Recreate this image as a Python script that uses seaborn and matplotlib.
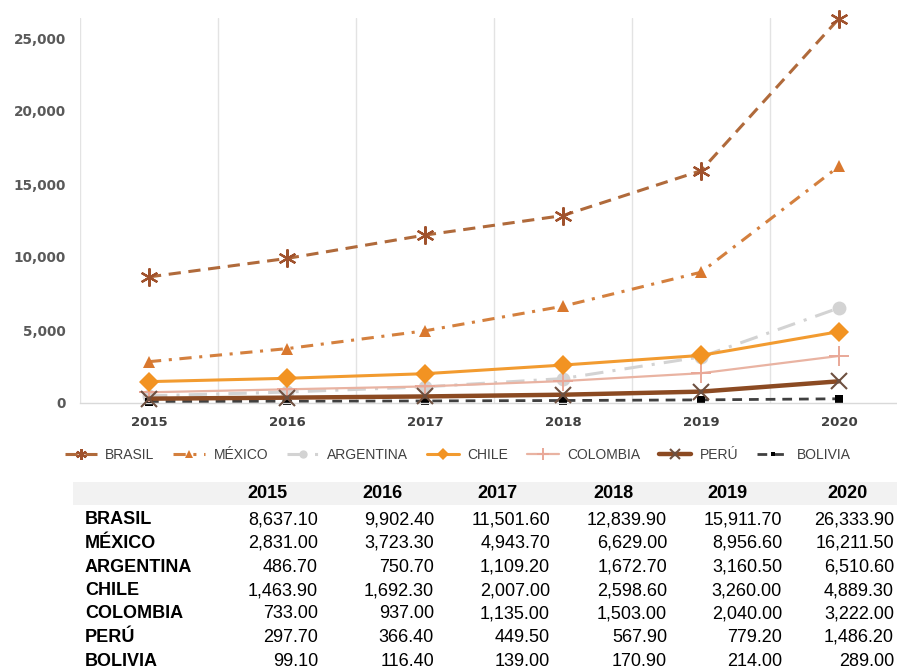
import matplotlib
matplotlib.use("Agg")
import matplotlib.pyplot as plt
from matplotlib.patches import Rectangle
from matplotlib import font_manager
import seaborn as sns
import pandas as pd

years = ["2015", "2016", "2017", "2018", "2019", "2020"]
countries = ["BRASIL", "MÉXICO", "ARGENTINA", "CHILE", "COLOMBIA", "PERÚ", "BOLIVIA"]
brasil = [8637.10, 9902.40, 11501.60, 12839.90, 15911.70, 26333.90]
mexico = [2831.00, 3723.30, 4943.70, 6629.00, 8956.60, 16211.50]
argentina = [486.70, 750.70, 1109.20, 1672.70, 3160.50, 6510.60]
chile = [1463.90, 1692.30, 2007.00, 2598.60, 3260.00, 4889.30]
colombia = [733.00, 937.00, 1135.00, 1503.00, 2040.00, 3222.00]
peru = [297.70, 366.40, 449.50, 567.90, 779.20, 1486.20]
bolivia = [99.10, 116.40, 139.00, 170.90, 214.00, 289.00]
series = [brasil, mexico, argentina, chile, colombia, peru, bolivia]
yticks = [0, 5000, 10000, 15000, 20000, 25000]

sns.set_style("white")
plt.rcParams["font.family"] = ["Liberation Sans", "DejaVu Sans"]

# condensed bold font for y tick labels if available
try:
    font_manager.findfont(font_manager.FontProperties(family="Liberation Sans Narrow", weight="bold"),
                          fallback_to_default=False)
    ytick_font = dict(fontfamily="Liberation Sans Narrow", fontweight="bold", fontsize=13.5)
except Exception:
    ytick_font = dict(fontfamily="DejaVu Sans", fontweight="bold", fontsize=9.8)

W, H = 897, 669
fig = plt.figure(figsize=(W / 100, H / 100), dpi=100)

def fx(x):
    return x / W

def fy(y):
    return 1 - y / H

ax = fig.add_axes([fx(80), fy(403), 817 / W, 385 / H])

rows = []
for c, vals in zip(countries, series):
    for i, (yr, v) in enumerate(zip(years, vals)):
        rows.append({"pais": c, "idx": i, "anio": yr, "valor": v})
df = pd.DataFrame(rows)

styles = {
    "BRASIL": dict(color="#B06A3B", lw=2.2, dashes=(4, 2.5), marker=(6, 2, 0), ms=13, mew=1.6, mfc="#A0522D", mec="#A0522D", z=3),
    "MÉXICO": dict(color="#D4803E", lw=2.2, dashes=(4, 2.5, 1, 2.5), marker="^", ms=9, mew=0, mfc="#D9782E", mec="#D9782E", z=3),
    "ARGENTINA": dict(color="#D3D3D3", lw=2.2, dashes=(6, 3, 1, 3), marker="o", ms=10, mew=0, mfc="#D3D3D3", mec="#D3D3D3", z=2),
    "CHILE": dict(color="#F29B30", lw=2.2, dashes=None, marker="D", ms=10, mew=0, mfc="#F29322", mec="#F29322", z=4),
    "COLOMBIA": dict(color="#E9B3A2", lw=1.6, dashes=None, marker="+", ms=14, mew=1.4, mfc="#E9A898", mec="#E9A898", z=3),
    "PERÚ": dict(color="#8B4A22", lw=3.2, dashes=None, marker="x", ms=11, mew=1.5, mfc="#6E5040", mec="#6E5040", z=3),
    "BOLIVIA": dict(color="#404040", lw=2.0, dashes=(3.5, 2.5), marker="s", ms=5.5, mew=0, mfc="#000000", mec="#000000", z=2),
}

for c in countries:
    s = styles[c]
    sub = df[df["pais"] == c]
    kw = dict(color=s["color"], linewidth=s["lw"], marker=s["marker"], markersize=s["ms"],
              markeredgewidth=s["mew"], markerfacecolor=s["mfc"], markeredgecolor=s["mec"],
              clip_on=False, zorder=s["z"], label=c)
    if s["dashes"] is not None:
        kw["dashes"] = s["dashes"]
    sns.lineplot(data=sub, x="idx", y="valor", ax=ax, legend=False, **kw)

ax.set_xlim(-0.5, -0.5 + 817 / 138)
ax.set_ylim(0, 385 / 0.0146)
ax.set_xticks(range(len(years)))
ax.set_xticklabels(years, fontfamily="DejaVu Sans", fontweight="bold", fontsize=9.5, color="#404040")
ax.set_yticks(yticks)
ax.set_yticklabels([f"{v:,}" for v in yticks], color="#595959", **ytick_font)
ax.tick_params(axis="both", length=0)
ax.tick_params(axis="y", pad=10)
ax.tick_params(axis="x", pad=9.5)
for b in [i - 0.5 for i in range(len(years))]:
    ax.axvline(b, color="#E3E3E3", lw=1.0, zorder=0)
for sp in ["top", "right", "left"]:
    ax.spines[sp].set_visible(False)
ax.spines["bottom"].set_color("#D9D9D9")
ax.spines["bottom"].set_linewidth(1.0)
ax.set_xlabel("")
ax.set_ylabel("")

handles, labels = ax.get_legend_handles_labels()
leg = fig.legend(handles, labels, loc="center", bbox_to_anchor=(fx(458), fy(455)), ncol=7,
                 frameon=False, fontsize=10, handlelength=2.3, handletextpad=0.6,
                 columnspacing=1.35, markerscale=0.6)
for t in leg.get_texts():
    t.set_color("#404040")

# table
fig.patches.append(Rectangle((fx(73), fy(505)), (W - 73) / W, 23 / H, transform=fig.transFigure,
                             facecolor="#F2F2F2", edgecolor="none", zorder=0))
head_x = [267, 382, 497, 613, 727, 847]
right_x = [318, 434, 550, 667, 782, 894]
for hx, yr in zip(head_x, years):
    fig.text(fx(hx), fy(494), yr, ha="center", va="center", fontsize=13, fontweight="bold", color="#000000")
for r, (c, vals) in enumerate(zip(countries, series)):
    yy = 520 + r * 23.5
    fig.text(fx(85), fy(yy), c, ha="left", va="center", fontsize=13, fontweight="bold", color="#000000")
    for rx, v in zip(right_x, vals):
        fig.text(fx(rx), fy(yy), f"{v:,.2f}", ha="right", va="center", fontsize=13, color="#000000")

fig.savefig("out.png", dpi=100)
